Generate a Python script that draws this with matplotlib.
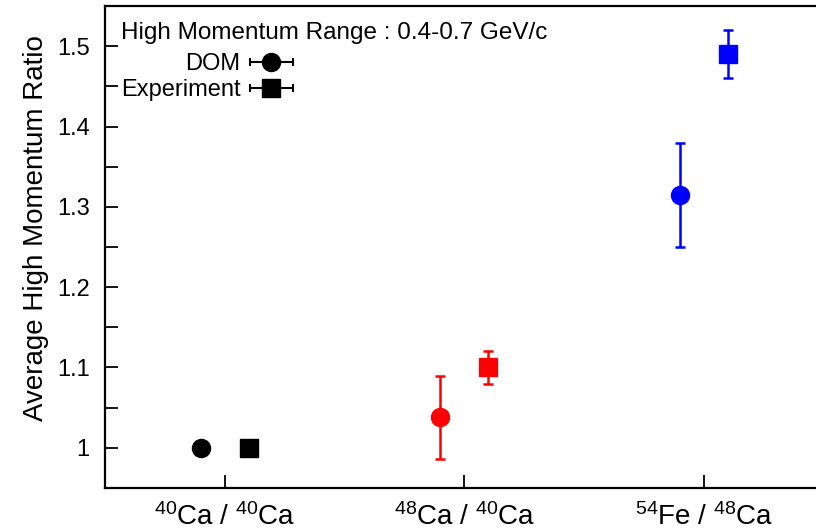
import numpy as np
import matplotlib
matplotlib.use('Agg')
import matplotlib.pyplot as plt
from matplotlib.ticker import MultipleLocator
from matplotlib.legend_handler import HandlerErrorbar

plt.rcParams['font.family'] = ['Liberation Sans', 'DejaVu Sans']
plt.rcParams['mathtext.fontset'] = 'custom'
plt.rcParams['mathtext.rm'] = 'Liberation Sans'
plt.rcParams['mathtext.it'] = 'Liberation Sans:italic'

# ratios
categories = [r'$^{40}$Ca / $^{40}$Ca', r'$^{48}$Ca / $^{40}$Ca', r'$^{54}$Fe / $^{48}$Ca']
dom_vals = [1.0, 1.038, 1.315]
dom_err = [0.0, 0.052, 0.065]
exp_vals = [1.0, 1.10, 1.49]
exp_err = [0.0, 0.02, 0.03]
colors = ['black', 'red', 'blue']
range_label = 'High Momentum Range : 0.4-0.7 GeV/c'

fig = plt.figure(figsize=(8.16, 5.30), dpi=100)
ax = fig.add_axes([105/816, 42/530, 718.5/816, 482/530])

x = np.arange(len(categories))
shift = 0.1
for i in range(len(categories)):
    ax.errorbar(x[i] - shift, dom_vals[i], yerr=dom_err[i], fmt='o', color=colors[i],
                ms=13, elinewidth=1.8, capsize=3.5, capthick=1.8)
    ax.errorbar(x[i] + shift, exp_vals[i], yerr=exp_err[i], fmt='s', color=colors[i],
                ms=13, elinewidth=1.8, capsize=3.5, capthick=1.8)

# header line + legend proxies (horizontal error bars like the original)
ax.text(0.0223, 0.932, range_label, transform=ax.transAxes, fontsize=17.5,
        ha='left', va='baseline')
h_dom = ax.errorbar([np.nan], [np.nan], xerr=[1], fmt='o', color='black', ms=13,
                    elinewidth=1.5, capsize=3, capthick=1.5)
h_exp = ax.errorbar([np.nan], [np.nan], xerr=[1], fmt='s', color='black', ms=13,
                    elinewidth=1.5, capsize=3, capthick=1.5)
leg = ax.legend([h_dom, h_exp], ['DOM', 'Experiment'],
                loc='upper left', bbox_to_anchor=(0.0058, 0.9264), borderaxespad=0,
                borderpad=0.5, frameon=False, markerfirst=False,
                fontsize=17, handlelength=1.8, handletextpad=0.4,
                labelspacing=0.15,
                handler_map={type(h_dom): HandlerErrorbar(xerr_size=0.9)})

ax.set_xlim(-0.5, 2.5)
ax.set_ylim(0.95, 1.55)
ax.set_xticks(x)
ax.set_xticklabels(categories, fontsize=20)
ax.yaxis.set_minor_locator(MultipleLocator(0.05))
ax.set_yticks([1.0, 1.1, 1.2, 1.3, 1.4, 1.5])
ax.set_yticklabels(['1', '1.1', '1.2', '1.3', '1.4', '1.5'], fontsize=17)
ax.tick_params(axis='both', which='both', direction='in', length=9.5, width=1.3)
ax.tick_params(axis='y', pad=11)
ax.tick_params(axis='x', pad=11)
ax.set_ylabel('Average High Momentum Ratio', fontsize=20)
ax.yaxis.set_label_coords(-0.078, 0.539)

ax.spines['right'].set_visible(False)
for s in ['left', 'top', 'bottom']:
    ax.spines[s].set_linewidth(1.6)

fig.savefig('out.png', dpi=100)
